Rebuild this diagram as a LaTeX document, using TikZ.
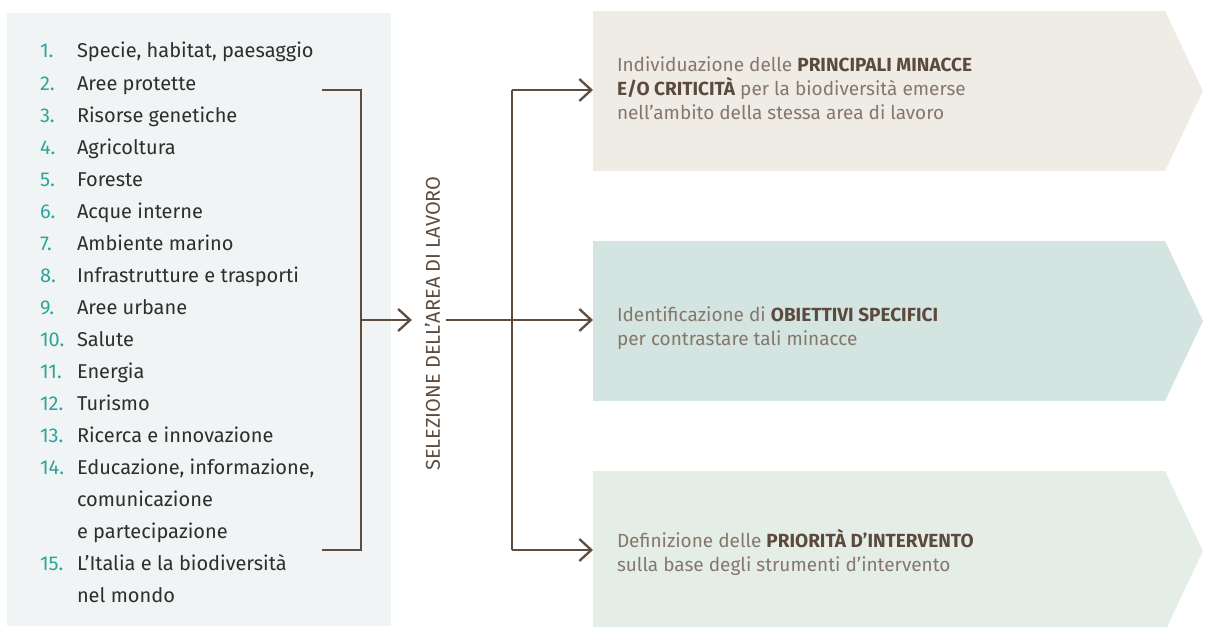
\documentclass[tikz,border=0pt]{standalone}
\usepackage{fontspec}
\setmainfont{Fira Sans}
\usetikzlibrary{arrows.meta}
\definecolor{panelc}{HTML}{F1F4F4}
\definecolor{boxa}{HTML}{EFEBE5}
\definecolor{boxb}{HTML}{D3E4E1}
\definecolor{boxc}{HTML}{E4EEE7}
\definecolor{linec}{HTML}{5E4C3F}
\definecolor{numc}{HTML}{2AA59E}
\definecolor{listc}{HTML}{2E2E2E}
\definecolor{lightc}{HTML}{85776C}
\definecolor{boldc}{HTML}{5B4A3D}
\newcommand\bfcap[1]{\textcolor{boldc}{\bfseries #1}}
\begin{document}
\begin{tikzpicture}[x=1pt,y=-1pt,
  every node/.style={inner sep=0pt,outer sep=0pt},
  numtxt/.style={anchor=base west,text=numc,font=\fontsize{20}{24}\selectfont},
  itemtxt/.style={anchor=base west,text=listc,font=\fontsize{20}{24}\selectfont},
  boxtxt/.style={anchor=base west,text=lightc,font=\fontsize{19}{24}\selectfont},
  panel/.style={fill=panelc,anchor=north west},
  stepbox/.style={anchor=north west,minimum width=572pt,minimum height=160pt},
  conn/.style={draw=linec,line width=2.3pt,line join=miter},
  arr/.style={conn,-{Straight Barb[length=12pt,width=22pt]}}]
\useasboundingbox (0,0) rectangle (1209,626);
\clip (0,0) rectangle (1209,626);
% left panel
\node[panel,minimum width=384pt,minimum height=613pt] (panel) at (7,13) {};
% list
\foreach \n/\k/\t in {1./0/{Specie, habitat, paesaggio},
  2./1/{Aree protette},
  3./2/{Risorse genetiche},
  4./3/{Agricoltura},
  5./4/{Foreste},
  6./5/{Acque interne},
  7./6/{Ambiente marino},
  8./7/{Infrastrutture e trasporti},
  9./8/{Aree urbane},
  10./9/{Salute},
  11./10/{Energia},
  12./11/{Turismo},
  13./12/{Ricerca e innovazione},
  14./13/{Educazione, informazione,},
  15./16/{L’Italia e la biodiversità}}{
  \node[numtxt] (num\k) at (40,58+32*\k) {\n};
  \node[itemtxt] (item\k) at (77,58+32*\k) {\t};
}
\node[itemtxt] (item14) at (77,58+32*14) {comunicazione};
\node[itemtxt] (item15) at (77,58+32*15) {e partecipazione};
\node[itemtxt] (item17) at (77,58+32*17) {nel mondo};
% step boxes
\node[stepbox,fill=boxa] (b1) at (593,11) {};
\fill[boxa] (b1.north east) -- ([xshift=38pt]b1.east) -- (b1.south east) -- cycle;
\node[stepbox,fill=boxb] (b2) at (593,241) {};
\fill[boxb] (b2.north east) -- ([xshift=38pt]b2.east) -- (b2.south east) -- cycle;
\node[stepbox,fill=boxc] (b3) at (593,471) {};
\fill[boxc] (b3.north east) -- ([xshift=38pt]b3.east) -- (b3.south east) -- cycle;
% box texts
\node[boxtxt] (t1a) at (617,71) {Individuazione delle \bfcap{PRINCIPALI MINACCE}};
\node[boxtxt] (t1b) at (617,95) {\bfcap{E/O CRITICITÀ} per la biodiversità emerse};
\node[boxtxt] (t1c) at (617,119) {nell’ambito della stessa area di lavoro};
\node[boxtxt] (t2a) at (617,321) {Identificazione di \bfcap{OBIETTIVI SPECIFICI}};
\node[boxtxt] (t2b) at (617,345) {per contrastare tali minacce};
\node[boxtxt] (t3a) at (617,547) {Definizione delle \bfcap{PRIORITÀ D’INTERVENTO}};
\node[boxtxt] (t3b) at (617,571) {sulla base degli strumenti d’intervento};
% rotated label
\node[rotate=90,text=linec,font=\fontsize{20}{24}\selectfont] (sel) at (432.5,323.5) {SELEZIONE DELL’AREA DI LAVORO};
% connectors
\coordinate (lt) at (322,90);
\coordinate (lb) at (322,550);
\coordinate (lm) at (361,320);
\draw[conn] (lt) -| (lm) |- (lb);
\draw[arr,shorten >=13pt] (lm) -- (lm -| sel.north);
\coordinate (rs) at (446,320);
\coordinate (rt) at (512,90);
\coordinate (rb) at (512,550);
\draw[conn] (rt) -- (rb);
\draw[arr] (rs) -- (rs -| b2.west);
\draw[arr] (rt) -- (rt -| b1.west);
\draw[arr] (rb) -- (rb -| b3.west);
\end{tikzpicture}
\end{document}
